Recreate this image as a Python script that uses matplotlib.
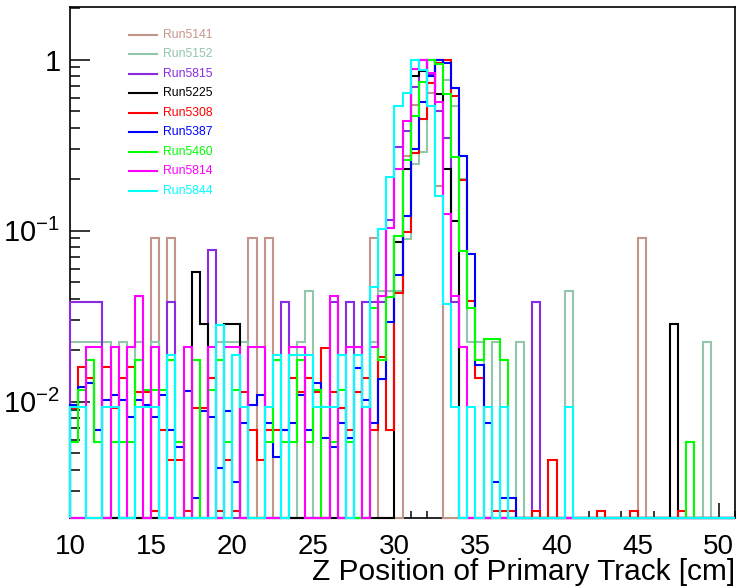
import numpy as np
import matplotlib
matplotlib.use("Agg")
import matplotlib.pyplot as plt
from matplotlib.lines import Line2D
from matplotlib.ticker import FixedLocator, FixedFormatter, MultipleLocator, NullFormatter

AXFONT = 'Liberation Sans'
TICK_FS = 20
LAB_FS = 21.5

plt.rcParams['font.family'] = ['Liberation Sans', 'DejaVu Sans']
plt.rcParams['mathtext.fontset'] = 'custom'
plt.rcParams['mathtext.rm'] = AXFONT
plt.rcParams['mathtext.it'] = AXFONT
plt.rcParams['mathtext.sf'] = AXFONT

# bins of 0.5 cm from 10 to 51 cm
bin_lo, bin_hi, bin_w = 10.0, 51.0, 0.5
NB = 82

runs = ["Run5141", "Run5152", "Run5815", "Run5225", "Run5308",
        "Run5387", "Run5460", "Run5814", "Run5844"]
colors = ["#c4958b", "#93c7a9", "#8a2be2", "#000000", "#ff0000",
          "#0000ff", "#00ff00", "#ff00ff", "#00ffff"]


def dense(d):
    a = [0] * NB
    for k, v in d.items():
        a[k] = v
    return a


# entries per bin (bin index: 0 -> 10.0-10.5 cm)
run5141 = dense({10: 1, 12: 1, 22: 1, 24: 1, 37: 1, 41: 3, 42: 6, 43: 11, 44: 7, 45: 2, 70: 1})
run5152 = dense({0: 1, 1: 1, 2: 1, 3: 1, 4: 1, 6: 1, 8: 1, 10: 1, 18: 1, 19: 1, 20: 1, 21: 1,
                 28: 1, 29: 2, 37: 1, 38: 2, 39: 2, 40: 2, 41: 4, 42: 11, 43: 13, 44: 37,
                 45: 45, 46: 34, 47: 24, 48: 9, 49: 1, 50: 1, 52: 1, 55: 1, 61: 2, 78: 1})
run5815 = dense({0: 1, 1: 1, 2: 1, 3: 1, 12: 1, 17: 2, 26: 1, 32: 1, 34: 1, 36: 1, 37: 1,
                 38: 1, 39: 3, 40: 8, 41: 10, 42: 18, 43: 26, 44: 21, 45: 13, 46: 9, 47: 1, 57: 1})
run5225 = dense({15: 2, 16: 1, 19: 1, 20: 1, 40: 3, 41: 8, 42: 28, 43: 30, 44: 35, 45: 22,
                 46: 8, 47: 4, 74: 1})
run5308 = [4, 7, 6, 3, 7, 4, 6, 7, 5, 5, 1, 3, 2, 2, 1, 4, 4, 6, 1, 2,
           1, 5, 3, 2, 3, 3, 3, 6, 5, 6, 5, 9, 5, 4, 3, 5, 6, 3, 8, 3,
           19, 43, 125, 196, 320, 419, 437, 267, 86, 17, 6, 0, 1, 1, 1, 0, 0, 1, 0, 2,
           0, 0, 0, 0, 0, 1, 0, 0, 0, 1, 0, 0, 0, 0, 0, 1, 0, 0, 0, 0,
           0, 0]
run5387 = [14, 18, 19, 10, 15, 16, 15, 12, 15, 14, 12, 16, 10, 8, 17, 4, 13, 12, 6, 13,
           5, 11, 14, 16, 11, 7, 10, 11, 16, 10, 19, 9, 8, 11, 9, 23, 15, 11, 20, 43,
           81, 179, 444, 826, 1176, 1470, 1397, 1000, 401, 108, 24, 11, 5, 4, 4, 0, 0, 0, 0, 0,
           0, 0, 0, 0, 0, 0, 0, 0, 0, 0, 0, 0, 0, 0, 0, 0, 0, 0, 0, 0,
           0, 0]
run5460 = [1, 2, 3, 1, 0, 1, 1, 1, 3, 2, 2, 2, 3, 1, 0, 3, 0, 2, 3, 1,
           2, 0, 0, 0, 1, 3, 1, 1, 3, 1, 2, 0, 1, 2, 1, 0, 0, 6, 3, 7,
           16, 44, 80, 127, 171, 162, 107, 46, 13, 6, 3, 4, 4, 3, 0, 0, 0, 0, 0, 0,
           0, 0, 0, 0, 0, 0, 0, 0, 0, 0, 0, 0, 0, 0, 0, 0, 1, 0, 0, 0,
           0, 0]
run5814 = dense({2: 1, 3: 1, 5: 1, 7: 1, 8: 2, 10: 1, 14: 1, 17: 1, 19: 1, 20: 1, 22: 1, 23: 1,
                 27: 1, 28: 1, 32: 2, 34: 1, 35: 1, 37: 1, 38: 2, 39: 5, 40: 11, 41: 21,
                 42: 42, 43: 48, 44: 40, 45: 27, 46: 6, 47: 2, 48: 1})
run5844 = dense({0: 1, 1: 1, 4: 1, 5: 1, 8: 1, 9: 1, 10: 1, 12: 2, 18: 3, 20: 2, 21: 1,
                 24: 1, 25: 2, 27: 2, 28: 2, 29: 2, 30: 1, 31: 1, 32: 1, 33: 2, 35: 2, 36: 1,
                 37: 5, 38: 11, 39: 22, 40: 57, 41: 68, 42: 107, 43: 93, 44: 57, 45: 17,
                 46: 4, 47: 1, 49: 1, 51: 1, 53: 1, 61: 1})

series = [run5141, run5152, run5815, run5225, run5308, run5387, run5460, run5814, run5844]

W, H = 736, 587
fig = plt.figure(figsize=(W / 100, H / 100), dpi=100)
L, R, T, B = 70, 735, 7.3, 517.7
ax = fig.add_axes([L / W, 1 - B / H, (R - L) / W, (B - T) / H])

ymin, ymax = 0.0021, 2.02
edges = bin_lo + bin_w * np.arange(NB + 1)

for cnt, col in zip(series, colors):
    c = np.asarray(cnt, dtype=float)
    v = c / c.max()
    v[v <= 0] = ymin
    ax.stairs(v, edges, baseline=ymin, color=col, lw=1.5, clip_on=False, zorder=3)

ax.set_yscale('log')
ax.set_xlim(bin_lo, bin_hi)
ax.set_ylim(ymin, ymax)

for s in ax.spines.values():
    s.set_linewidth(1.2)
    s.set_zorder(2)

ax.xaxis.set_major_locator(FixedLocator([10, 15, 20, 25, 30, 35, 40, 45, 50]))
ax.xaxis.set_minor_locator(MultipleLocator(1))
ax.yaxis.set_major_locator(FixedLocator([0.01, 0.1, 1]))
ax.yaxis.set_major_formatter(FixedFormatter([r'$10^{-2}$', r'$10^{-1}$', r'$1$']))
minors = [m * 10.0 ** e for e in (-3, -2, -1, 0) for m in range(2, 10)]
ax.yaxis.set_minor_locator(FixedLocator(minors))
ax.yaxis.set_minor_formatter(NullFormatter())

ax.tick_params(axis='both', which='both', direction='in', top=False, right=False,
               width=1.1, colors='black')
ax.tick_params(axis='x', which='major', length=10.8, pad=12, labelsize=TICK_FS)
ax.tick_params(axis='x', which='minor', length=5.4)
ax.tick_params(axis='y', which='major', length=14.4, pad=7, labelsize=21)
ax.tick_params(axis='y', which='minor', length=7.2)

fig.text(735 / W, 1 - 579.5 / H, "Z Position of Primary Track [cm]", ha='right',
         va='baseline', fontsize=LAB_FS, family=AXFONT)

# legend
for i, (name, col) in enumerate(zip(runs, colors)):
    y = 34.5 + 19.55 * i
    fig.add_artist(Line2D([129 / W, 157 / W], [1 - y / H, 1 - y / H], color=col, lw=1.5))
    fig.text(163 / W, 1 - y / H, name, color=col, fontsize=8.8, ha='left', va='center')

fig.savefig("out.png", dpi=100)
